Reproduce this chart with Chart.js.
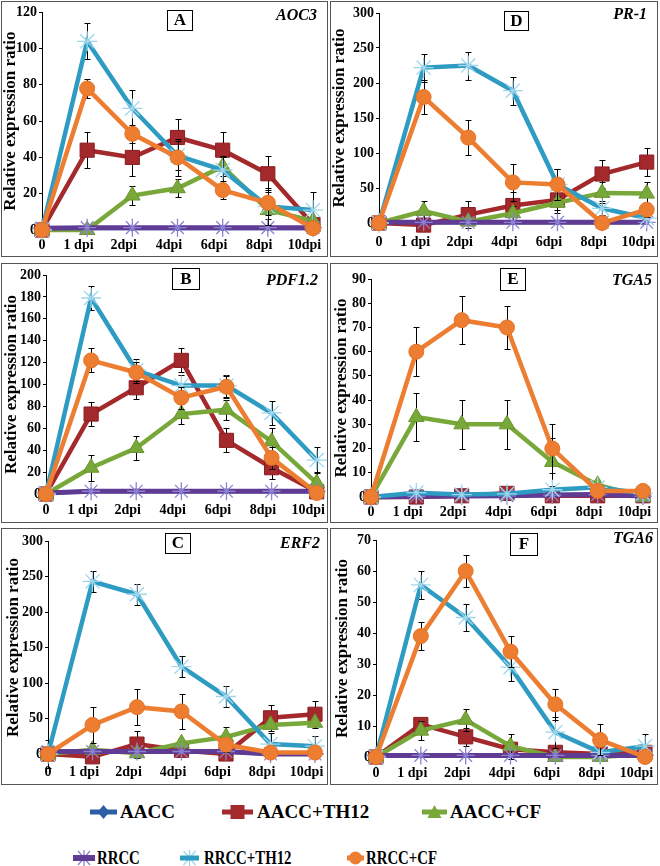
<!DOCTYPE html>
<html><head><meta charset="utf-8">
<script src="https://cdn.jsdelivr.net/npm/chart.js@4.4.0/dist/chart.umd.min.js"></script>
<style>
body{margin:0;background:#fff;width:660px;height:866px;position:relative;overflow:hidden;font-family:"Liberation Serif","Times New Roman",serif;}
.panel{position:absolute;}
.panel canvas{position:absolute;left:0;top:0;}
.frame{position:absolute;left:0;top:0;right:0;bottom:0;border:1.5px solid #555;box-sizing:border-box;pointer-events:none;}
.tag{position:absolute;border:1.5px solid #000;font-weight:bold;font-size:17px;text-align:center;box-sizing:border-box;background:#fff;color:#000;}
.gene{position:absolute;font-weight:bold;font-style:italic;font-size:16px;text-align:right;width:120px;line-height:18px;color:#000;}
.leg{position:absolute;font-family:"Liberation Serif","Times New Roman",serif;font-weight:bold;font-size:19px;white-space:nowrap;line-height:22px;color:#000;}
.mk{position:absolute;}
</style></head><body>
<script>
// ---------- DATA ----------
const categories = ['0', '1 dpi', '2dpi', '4dpi', '6dpi', '8dpi', '10dpi'];
const seriesNames = ['AACC', 'AACC+TH12', 'AACC+CF', 'RRCC', 'RRCC+TH12', 'RRCC+CF'];
const geneNames = ['AOC3', 'PR-1', 'PDF1.2', 'TGA5', 'ERF2', 'TGA6'];
const panelLetters = ['A', 'D', 'B', 'E', 'C', 'F'];
const yMax = [120, 300, 200, 90, 300, 70];
const yStep = [20, 50, 20, 10, 50, 10];

// A - AOC3 (series order as seriesNames)
const aoc3 = [
  [1, 1, 1, 1, 1, 1, 1],
  [0, 44, 40, 51, 44, 31, 3],
  [0, 0, 19, 23, 35, 11, 5],
  [1, 1.3, 1.3, 1.3, 1.3, 1.3, 1.3],
  [0, 104, 67, 41, 33, 13, 11],
  [0, 78, 53, 40, 22, 15, 1]
];
const aoc3Err = [
  [0, 0, 0, 0, 0, 0, 0],
  [0, 10, 10, 10, 10, 10, 0],
  [0, 0, 5, 5, 5, 5, 0],
  [0, 0, 0, 0, 0, 0, 0],
  [0, 10, 10, 8, 8, 10, 10],
  [0, 5, 5, 10, 5, 7, 0]
];
// D - PR-1
const pr1 = [
  [1, 1, 1, 1, 1, 1, 1],
  [0, -3, 12, 25, 33, 70, 87],
  [0, 17, 2, 14, 29, 43, 42],
  [1, 1, 1, 1, 1, 1, 1],
  [0, 222, 225, 189, 55, 21, 7],
  [0, 180, 122, 58, 55, 0, 19]
];
const pr1Err = [
  [0, 0, 0, 0, 0, 0, 0],
  [0, 0, 19, 20, 19, 20, 20],
  [0, 15, 0, 10, 10, 15, 16],
  [0, 0, 0, 0, 0, 0, 0],
  [0, 20, 20, 20, 22, 10, 0],
  [0, 25, 25, 26, 22, 0, 10]
];
// B - PDF1.2
const pdf12 = [
  [1, 2.5, 2.5, 2.5, 2.5, 2.5, 2.5],
  [0, 73, 97, 122, 49, 24, 2],
  [0, 24, 42, 73, 77, 48, 10],
  [1, 2.5, 2.5, 2.5, 2.5, 2.5, 2.5],
  [0, 179, 113, 99, 99, 74, 31],
  [0, 122, 111, 88, 98, 33, 1]
];
const pdf12Err = [
  [0, 0, 0, 0, 0, 0, 0],
  [0, 11, 10, 11, 11, 10, 0],
  [0, 12, 11, 9, 9, 12, 10],
  [0, 0, 0, 0, 0, 0, 0],
  [0, 11, 10, 10, 10, 11, 12],
  [0, 11, 10, 10, 10, 10, 0]
];
// E - TGA5
const tga5 = [
  [0, 0.3, 0.4, 0.5, 0.8, 1, 0.4],
  [0, 0, 0.5, 1.5, 0.5, 0.5, 0.5],
  [0, 33, 30, 30, 14.5, 5, 0],
  [0, 0.3, 0.4, 0.5, 0.8, 1, 0.4],
  [0, 1.8, 1, 1.3, 3, 4, 1.5],
  [0, 60, 73, 70, 20, 2.5, 2.5]
];
const tga5Err = [
  [0, 0, 0, 0, 0, 0, 0],
  [0, 0, 0, 0, 0, 0, 0],
  [0, 10, 10, 10, 10, 0, 0],
  [0, 0, 0, 0, 0, 0, 0],
  [0, 0, 0, 0, 0, 0, 0],
  [0, 10, 10, 9, 10, 0, 0]
];
// C - ERF2
const erf2 = [
  [3, 3, 3, 3, 3, 0, 0],
  [0, -4, 14, 5, 0, 51, 56],
  [0, 6, 1, 15, 24, 41, 44],
  [3.5, 3.5, 3.5, 3.5, 3.5, 0, 0],
  [0, 243, 225, 123, 81, 14, 11],
  [0, 41, 66, 60, 13, 2, 2]
];
const erf2Err = [
  [0, 0, 0, 0, 0, 0, 0],
  [0, 0, 19, 0, 0, 18, 19],
  [0, 0, 0, 0, 14, 0, 0],
  [0, 0, 0, 0, 0, 0, 0],
  [20, 15, 15, 15, 15, 15, 15],
  [0, 25, 25, 25, 10, 0, 0]
];
// F - TGA6
const tga6 = [
  [0.5, 0.5, 0.5, 0.5, 0.5, 0.5, 0.5],
  [0, 10.5, 6.5, 2.5, 1.5, 1, 1.5],
  [0, 8.5, 12, 3.5, 0, 0, 1],
  [0.5, 0.5, 0.5, 0.5, 0.5, 0.5, 0.5],
  [0, 55.5, 45, 29, 8, 1.5, 3.5],
  [0, 39, 60, 34, 17, 5.5, 0]
];
const tga6Err = [
  [0, 0, 0, 0, 0, 0, 0],
  [0, 2, 3, 1, 2, 0, 0],
  [0, 3, 3.5, 4, 0, 0, 0],
  [0, 0, 0, 0, 0, 0, 0],
  [0, 4.5, 4.5, 4.5, 5, 0, 4],
  [0, 4.5, 5, 5, 5, 5, 0]
];
const panelValues = [aoc3, pr1, pdf12, tga5, erf2, tga6];
const panelErrors = [aoc3Err, pr1Err, pdf12Err, tga5Err, erf2Err, tga6Err];

// ---------- STYLE / LAYOUT ----------
const FONT = '"Liberation Serif","Times New Roman",serif';
const labelShift = 0.19;
const styles = [
  {color:'#2f5ea8', pstyle:'rectRot', r:3, pbg:'#2f5ea8', pbc:'#2f5ea8', pbw:1, lw:4},
  {color:'#a3292c', pstyle:'rect', r:10, pbg:'#a3292c', pbc:'#8a1f22', pbw:1, lw:4.5},
  {color:'#79a83a', pstyle:'triangle', r:9, pbg:'#79a83a', pbc:'#6a9530', pbw:1, lw:4.5},
  {color:'#5f3b94', pstyle:'star', r:9, pbg:'#8d82d2', pbc:'#8d82d2', pbw:1.3, lw:5},
  {color:'#2e9cc2', pstyle:'star', r:10, pbg:'#9fd6ec', pbc:'#9fd6ec', pbw:1.3, lw:4.5},
  {color:'#ec7d31', pstyle:'circle', r:7.5, pbg:'#ec7d31', pbc:'#e57325', pbw:1, lw:4.5}
];
// panel boxes, in page pixels; plot-area edges relative to the panel
const layouts = [
  {x:1,   y:1,   w:327, h:256, left:41, right:312, top:11, bottom:229, pad:7,  tpad:0, tag:[167,10,26,21], gene:[317,15]},
  {x:330, y:1,   w:328, h:256, left:49, right:317, top:12, bottom:222, pad:11, tpad:0, tag:[504,11,25,20], gene:[647,14]},
  {x:1,   y:263, w:327, h:260, left:45, right:316, top:12, bottom:231, pad:8,  tpad:1, tag:[172,268,28,22], gene:[318,280]},
  {x:330, y:263, w:328, h:260, left:41, right:313, top:16, bottom:234, pad:7,  tpad:2, tag:[500,268,26,23], gene:[652,280]},
  {x:1,   y:528, w:327, h:257, left:47, right:314, top:13, bottom:226, pad:10, tpad:3, tag:[165,533,26,21], gene:[320,543]},
  {x:330, y:528, w:328, h:257, left:46, right:315, top:12, bottom:229, pad:8,  tpad:3, tag:[510,533,28,23], gene:[653,538]}
];

const errorBars = {
  id:'errorBars',
  beforeDatasetDraw(chart, args){
    const ds = chart.data.datasets[args.index];
    if(!ds.errors) return;
    const ys = chart.scales.y, ctx = chart.ctx, meta = args.meta;
    ctx.save();
    ctx.strokeStyle = '#000'; ctx.lineWidth = 1;
    ds.errors.forEach((e, i) => {
      if(!e) return;
      const pt = meta.data[i];
      const v = ds.data[i].y;
      const t = Math.round(ys.getPixelForValue(v + e)) + 0.5;
      const b = Math.round(ys.getPixelForValue(v - e)) + 0.5;
      const x = Math.round(pt.x) + 0.5;
      ctx.beginPath();
      ctx.moveTo(x, t); ctx.lineTo(x, b);
      ctx.moveTo(x - 3, t); ctx.lineTo(x + 3, t);
      ctx.moveTo(x - 3, b); ctx.lineTo(x + 3, b);
      ctx.stroke();
    });
    ctx.restore();
  }
};

layouts.forEach((L, p) => {
  const div = document.createElement('div');
  div.className = 'panel';
  Object.assign(div.style, {left:L.x+'px', top:L.y+'px', width:L.w+'px', height:L.h+'px'});
  const cv = document.createElement('canvas');
  cv.width = L.w; cv.height = L.h;
  div.appendChild(cv);
  const fr = document.createElement('div'); fr.className = 'frame'; div.appendChild(fr);
  document.body.appendChild(div);

  const datasets = seriesNames.map((name, k) => {
    const s = styles[k];
    return {
      label: name,
      data: panelValues[p][k].map((v, i) => ({x:i, y:v})),
      errors: panelErrors[p][k],
      borderColor: s.color, backgroundColor: s.color, borderWidth: s.lw,
      pointStyle: s.pstyle, pointRadius: s.r, pointBackgroundColor: s.pbg,
      pointBorderColor: s.pbc, pointBorderWidth: s.pbw,
      tension: 0, clip: false, order: 5 - k
    };
  });
  const tickFont = {family:FONT, size:14, weight:'bold'};
  new Chart(cv, {
    type:'line',
    data:{datasets},
    plugins:[errorBars],
    options:{
      responsive:false, animation:false, events:[],
      layout:{padding:{top:L.top, right:L.w - L.right, left:0, bottom:0}},
      plugins:{legend:{display:false}, tooltip:{enabled:false}},
      scales:{
        x:{
          type:'linear', min:0, max:6,
          afterBuildTicks: s => { s.ticks = categories.map((c, i) => ({value: i === 0 ? 0 : i - labelShift})); },
          afterFit: s => { s.height = L.h - L.bottom; s.paddingLeft = 0; s.paddingRight = 0; },
          ticks:{callback:(v, i) => categories[i], font:tickFont, color:'#000', padding:L.pad, maxRotation:0, minRotation:0, autoSkip:false},
          grid:{display:false, drawTicks:false}, border:{display:false}
        },
        y:{
          min:0, max:yMax[p],
          afterFit: s => { s.width = L.left; },
          ticks:{stepSize:yStep[p], font:tickFont, color:'#000', padding:2},
          grid:{display:true, drawOnChartArea:false, tickLength:3, color:'#000'},
          border:{display:true, color:'#000', width:1},
          title:{display:true, text:'Relative expression ratio', color:'#000',
                 font:{family:FONT, size:17, weight:'bold'}, padding:{top:L.tpad - 1, bottom:0}}
        }
      }
    }
  });

  const tag = document.createElement('div');
  tag.className = 'tag'; tag.textContent = panelLetters[p];
  const [tx, ty, tw, th] = L.tag;
  Object.assign(tag.style, {left:tx+'px', top:ty+'px', width:tw+'px', height:th+'px', lineHeight:(th-3)+'px'});
  document.body.appendChild(tag);
  const g = document.createElement('div');
  g.className = 'gene'; g.textContent = geneNames[p];
  Object.assign(g.style, {left:(L.gene[0]-120)+'px', top:(L.gene[1]-9)+'px'});
  document.body.appendChild(g);
});

// ---------- LEGEND ----------
const legendPos = [
  {mx:90,  mw:27, tx:120, cy:812, sx:1},
  {mx:222, mw:31, tx:257, cy:812, sx:1},
  {mx:422, mw:25, tx:450, cy:812, sx:1},
  {mx:73,  mw:22, tx:97,  cy:858, sx:0.78},
  {mx:180, mw:19, tx:204, cy:858, sx:0.78},
  {mx:347, mw:17, tx:366, cy:858, sx:0.78}
];
function markerSvg(k, w){
  const s = styles[k], h = 16, cy = 8, cx = w/2;
  let shape = '';
  if(k === 0) shape = `<polygon points="${cx},1 ${cx+6},${cy} ${cx},15 ${cx-6},${cy}" fill="${s.color}"/>`;
  if(k === 1) shape = `<rect x="${cx-7}" y="1" width="14" height="14" fill="${s.color}"/>`;
  if(k === 2) shape = `<polygon points="${cx},1 ${cx+7},14 ${cx-7},14" fill="${s.color}"/>`;
  if(k === 3 || k === 4) shape = `<g stroke="${s.pbc}" stroke-width="1.3"><line x1="${cx}" y1="0" x2="${cx}" y2="16"/><line x1="${cx-6}" y1="1" x2="${cx+6}" y2="15"/><line x1="${cx+6}" y1="1" x2="${cx-6}" y2="15"/></g>`;
  if(k === 5) shape = `<circle cx="${cx}" cy="${cy}" r="6.5" fill="${s.color}"/>`;
  const lw = k === 3 ? 6 : 5;
  const line = `<rect x="0" y="${cy - lw/2}" width="${w}" height="${lw}" fill="${s.color}"/>`;
  return `<svg width="${w}" height="${h}" xmlns="http://www.w3.org/2000/svg">${k>=3?shape+line:line+shape}</svg>`;
}
seriesNames.forEach((name, k) => {
  const P = legendPos[k];
  const m = document.createElement('div');
  m.className = 'mk'; m.innerHTML = markerSvg(k, P.mw);
  Object.assign(m.style, {left:P.mx+'px', top:(P.cy-8)+'px', width:P.mw+'px', height:'16px'});
  document.body.appendChild(m);
  const t = document.createElement('div');
  t.className = 'leg'; t.textContent = name;
  Object.assign(t.style, {left:P.tx+'px', top:(P.cy-11)+'px', transform:`scaleX(${P.sx})`, transformOrigin:'left center'});
  document.body.appendChild(t);
});
</script>
</body></html>
